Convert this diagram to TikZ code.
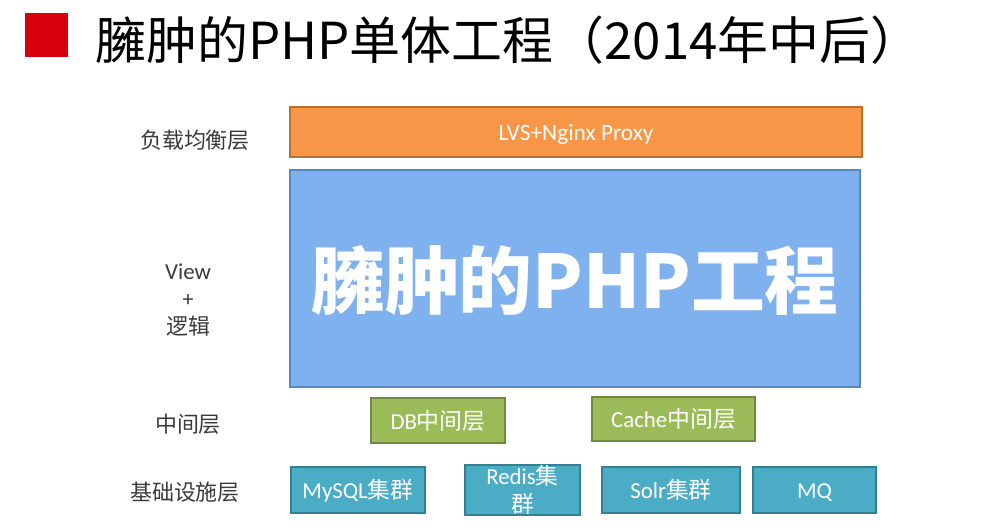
\documentclass[tikz,border=0pt]{standalone}
\usepackage{fontspec}
\setmainfont{Carlito}
\newfontfamily\cjk{Noto Sans CJK SC}
\usetikzlibrary{positioning}

\definecolor{lbred}{HTML}{D9000D}
\definecolor{lborange}{HTML}{F79646}
\definecolor{lborangeline}{HTML}{B8722F}
\definecolor{appblue}{HTML}{7EB1EE}
\definecolor{appblueline}{HTML}{5A86C0}
\definecolor{midgreen}{HTML}{9BBB59}
\definecolor{midgreenline}{HTML}{71893F}
\definecolor{infrateal}{HTML}{4BACC6}
\definecolor{infratealline}{HTML}{357F93}
\definecolor{labelgray}{HTML}{3A3A3A}

\tikzset{
  layerbox/.style={draw, line width=1.2pt, text=white, inner sep=0pt,
    font=\fontsize{13}{15}\selectfont, text height=11pt, text depth=1pt},
  lbbox/.style={layerbox, fill=lborange, draw=lborangeline},
  midbox/.style={layerbox, fill=midgreen, draw=midgreenline},
  infrabox/.style={layerbox, fill=infrateal, draw=infratealline},
  layerlabel/.style={text=labelgray, align=center,
    font=\fontsize{12.5}{15.5}\selectfont\cjk},
}

\begin{document}
\begin{tikzpicture}[x=0.02cm, y=-0.02cm]
 \useasboundingbox (0,0) rectangle (1000,529);
 % title
 \fill[lbred] (25,13) rectangle (68,57);
 \node[anchor=west, inner sep=0pt, font=\fontsize{29}{32}\selectfont\cjk] (title)
   at (95,40) {臃肿的PHP单体工程（2014年中后）};
 %
 \node[lbbox, minimum width=572*0.02cm, minimum height=50*0.02cm,
   font=\fontsize{13.3}{15}\selectfont] (lb) at (576,132) {LVS+Nginx Proxy};
 \node[draw=appblueline, fill=appblue, line width=0.6pt, inner sep=0pt,
   minimum width=570*0.02cm, minimum height=217*0.02cm] (app) at (575,278.5) {};
 \node[text=white, font=\fontsize{42}{45}\selectfont\cjk\bfseries] (apptext)
   at (575,280) {臃肿的PHP工程};
 %
 \node[midbox, minimum width=134*0.02cm, minimum height=45*0.02cm] (db) at (438,420.5)
   {DB{\cjk 中间层}};
 \node[midbox, minimum width=163*0.02cm, minimum height=44*0.02cm] (cache) at (673.5,419)
   {Cache{\cjk 中间层}};
 %
 \node[infrabox, minimum width=134*0.02cm, minimum height=46*0.02cm] (mysql) at (358,490)
   {MySQL{\cjk 集群}};
 \node[draw=infratealline, fill=infrateal, line width=1.2pt, text=white, inner sep=0pt,
   minimum width=115*0.02cm, minimum height=46*0.02cm, align=center,
   font=\fontsize{13}{16}\selectfont] (redis) at (522.5,490) {Redis{\cjk 集}\\{\cjk 群}};
 \node[infrabox, minimum width=138*0.02cm, minimum height=46*0.02cm] (solr) at (671,490)
   {Solr{\cjk 集群}};
 \node[infrabox, minimum width=123*0.02cm, minimum height=46*0.02cm] (mq) at (814.5,490)
   {MQ};
 %
 \node[layerlabel] (lblabel) at (195,140) {负载均衡层};
 \node[layerlabel] (applabel) at (188,300) {{\rmfamily\fontsize{13}{15.5}\selectfont View}\\
   {\rmfamily +}\\逻辑};
 \node[layerlabel] (midlabel) at (188,424) {中间层};
 \node[layerlabel] (infralabel) at (185,492) {基础设施层};
\end{tikzpicture}
\end{document}
